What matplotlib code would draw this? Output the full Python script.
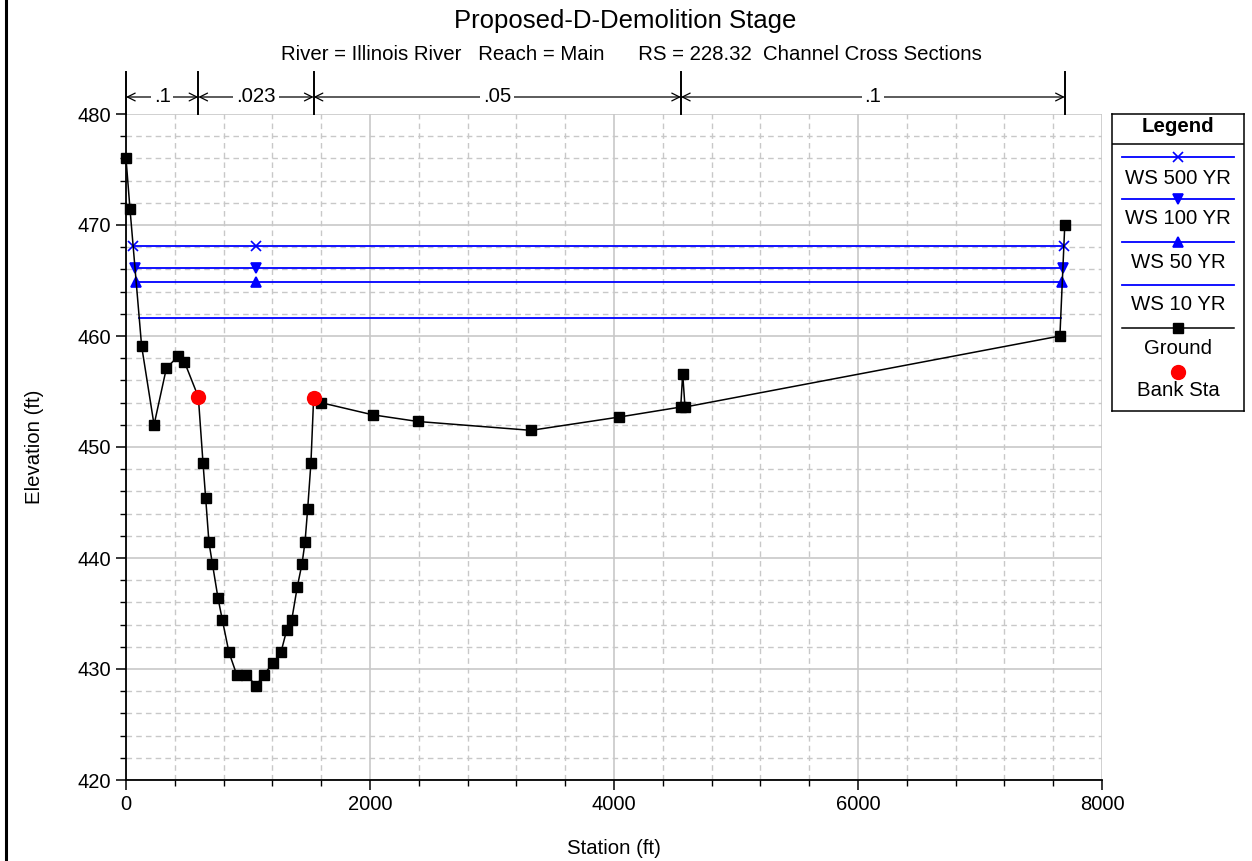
import numpy as np
import matplotlib
matplotlib.use('Agg')
import matplotlib.pyplot as plt
from matplotlib.lines import Line2D
from matplotlib.ticker import MultipleLocator

plt.rcParams['font.family'] = ['Liberation Sans', 'DejaVu Sans']

# ground profile (station ft, elevation ft)
station = [0, 33, 128, 230, 331, 429, 478, 593, 631, 653, 680, 708, 754, 790, 844,
           907, 984, 1066, 1131, 1202, 1270, 1317, 1358, 1404, 1443, 1467, 1489,
           1516, 1538, 1596, 2022, 2391, 3320, 4043, 4547, 4563, 4582, 7655, 7695]
elev = [476.0, 471.4, 459.1, 452.0, 457.1, 458.2, 457.7, 454.5, 448.6, 445.4, 441.4,
        439.5, 436.4, 434.4, 431.5, 429.5, 429.5, 428.5, 429.5, 430.5, 431.5, 433.5,
        434.4, 437.4, 439.5, 441.4, 444.4, 448.6, 454.4, 454.0, 452.9, 452.3, 451.5,
        452.7, 453.6, 456.6, 453.6, 460.0, 470.0]

bank_sta = [593, 1538]

# manning n breaks along the top
n_sta = [0, 593, 1538, 4549, 7695]
n_val = ['.1', '.023', '.05', '.1']

# water surfaces
ws_names = ['WS 500 YR', 'WS 100 YR', 'WS 50 YR', 'WS 10 YR']
ws_elev = [468.1, 466.1, 464.9, 461.6]
ws_marker = ['x', 'v', '^', None]

station = np.array(station, dtype=float)
elev = np.array(elev)
bank_elev = np.interp(bank_sta, station, elev)


def ws_extent(wse):
    below = np.where(elev < wse)[0]
    i0, i1 = below[0], below[-1]
    xl = np.interp(wse, [elev[i0], elev[i0 - 1]], [station[i0], station[i0 - 1]])
    xr = np.interp(wse, [elev[i1], elev[i1 + 1]], [station[i1], station[i1 + 1]])
    return xl, xr


fs = 14.7
W, H = 1252, 861
fig = plt.figure(figsize=(W / 100, H / 100), dpi=100)
ax = fig.add_axes([126 / W, 1 - 780 / H, 976 / W, 666 / H])

blue = '#0000ff'
x_mid = station[np.argmin(elev)]
for name, wse, mk in zip(ws_names, ws_elev, ws_marker):
    xl, xr = ws_extent(wse)
    ax.plot([xl, xr], [wse, wse], color=blue, lw=1.3, zorder=3)
    if mk is not None:
        ax.plot([xl, x_mid, xr], [wse] * 3, ls='none', marker=mk, color=blue,
                ms=7 if mk != 'x' else 6.5, mew=1.2, zorder=4)

ax.plot(station, elev, color='k', lw=1.1, marker='s', ms=6.5, zorder=5, clip_on=False)
ax.plot(bank_sta, bank_elev, ls='none', marker='o', color='#ff0000', ms=10, zorder=6)

ax.set_xlim(0, 8000)
ax.set_ylim(420, 480)
ax.xaxis.set_major_locator(MultipleLocator(2000))
ax.xaxis.set_minor_locator(MultipleLocator(400))
ax.yaxis.set_major_locator(MultipleLocator(10))
ax.yaxis.set_minor_locator(MultipleLocator(2))
ax.grid(which='major', color='#c8c8c8', lw=1.2, ls='-')
ax.grid(which='minor', color='#c8c8c8', lw=1.0, ls=(0, (4, 3)))
ax.set_axisbelow(True)
for s in ['top', 'right']:
    ax.spines[s].set_visible(False)
for s in ['left', 'bottom']:
    ax.spines[s].set_linewidth(1.3)
ax.tick_params(which='major', length=7, width=1.1, labelsize=14.5, direction='out')
ax.tick_params(which='minor', length=4.5, width=1.0, direction='out')
ax.set_xlabel('Station (ft)', fontsize=fs, labelpad=18)
ax.set_ylabel('Elevation (ft)', fontsize=fs, labelpad=24)

# n value bands above the plot
tr = ax.get_xaxis_transform()
y_arr = 1 + 17 / 666
for s in n_sta:
    ax.plot([s, s], [1.0, 1 + 42 / 666], color='k', lw=1.4, transform=tr, clip_on=False)
for a, b, lab in zip(n_sta[:-1], n_sta[1:], n_val):
    ax.annotate('', xy=(b, y_arr), xytext=(a, y_arr), xycoords=tr, textcoords=tr,
                arrowprops=dict(arrowstyle='<->', lw=0.9, color='k',
                                shrinkA=0, shrinkB=0, mutation_scale=14))
    ax.text((a + b) / 2, y_arr, lab, transform=tr, ha='center', va='center',
            fontsize=fs, bbox=dict(fc='white', ec='none', pad=2))

fig.text(625 / W, 1 - 21 / H, 'Proposed-D-Demolition Stage', ha='center', va='center',
         fontsize=18.5)
fig.text(631 / W, 1 - 55 / H,
         'River = Illinois River   Reach = Main      RS = 228.32  Channel Cross Sections',
         ha='center', va='center', fontsize=fs)

# left border of the window
fig.add_artist(Line2D([6 / W, 6 / W], [0, 1], transform=fig.transFigure, color='k', lw=2.2))

# legend box
lg = fig.add_axes([1112 / W, 1 - 411 / H, 132 / W, 297 / H])
lg.set_xlim(0, 132)
lg.set_ylim(297, 0)
lg.set_xticks([])
lg.set_yticks([])
for s in lg.spines.values():
    s.set_linewidth(1.1)
lg.text(66, 13, 'Legend', ha='center', va='center', fontsize=fs, fontweight='bold')
lg.axhline(30, color='k', lw=1.1)
row_line = [43, 85, 128, 171, 214, 258]
row_text = [64, 105, 148, 190, 234, 276]
for i, (name, mk) in enumerate(zip(ws_names, ws_marker)):
    lg.plot([10, 122], [row_line[i]] * 2, color=blue, lw=1.3)
    if mk is not None:
        lg.plot([66], [row_line[i]], marker=mk, color=blue, ms=7 if mk != 'x' else 6.5, mew=1.2)
    lg.text(66, row_text[i], name, ha='center', va='center', fontsize=fs)
lg.plot([10, 122], [row_line[4]] * 2, color='k', lw=1.1)
lg.plot([66], [row_line[4]], marker='s', color='k', ms=6.5)
lg.text(66, row_text[4], 'Ground', ha='center', va='center', fontsize=fs)
lg.plot([66], [row_line[5]], marker='o', color='#ff0000', ms=10)
lg.text(66, row_text[5], 'Bank Sta', ha='center', va='center', fontsize=fs)

fig.savefig('out.png', dpi=100)
